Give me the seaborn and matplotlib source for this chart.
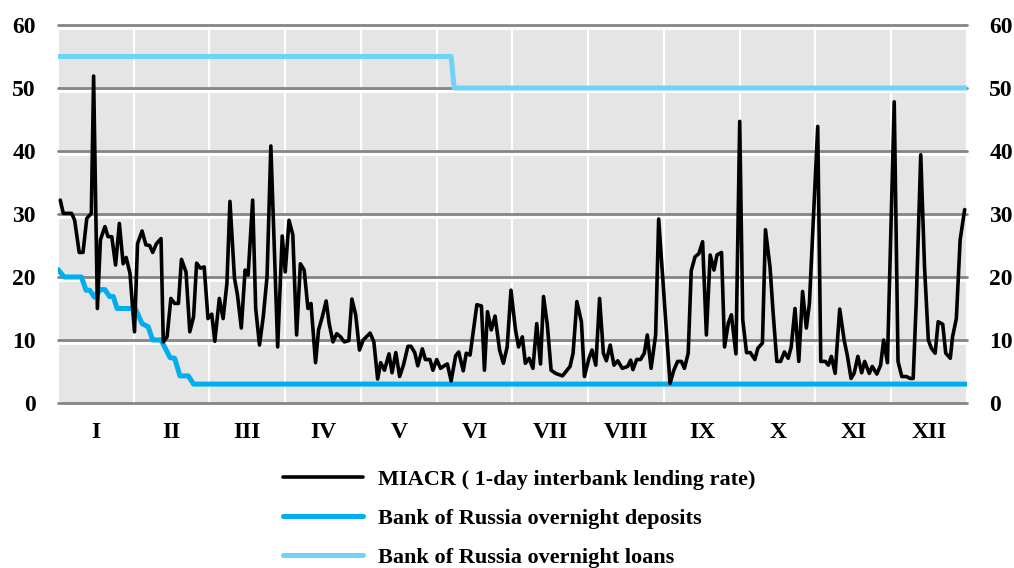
import numpy as np
import pandas as pd
import matplotlib
matplotlib.use("Agg")
import matplotlib.pyplot as plt
import matplotlib.patheffects as pe
import seaborn as sns

# x positions are in months (0 = start of January, 12 = end of December)
miacr_x = [0.03, 0.07, 0.18, 0.22, 0.28, 0.33, 0.38, 0.44, 0.47, 0.52, 0.56, 0.62, 0.66, 0.71, 0.76,
           0.81, 0.86, 0.90, 0.95, 1.01, 1.05, 1.11, 1.16, 1.21, 1.25, 1.30, 1.36, 1.39, 1.44, 1.49,
           1.54, 1.59, 1.63, 1.69, 1.74, 1.79, 1.83, 1.88, 1.93, 1.98, 2.03, 2.07, 2.13, 2.18, 2.23,
           2.27, 2.33, 2.37, 2.42, 2.47, 2.51, 2.57, 2.61, 2.66, 2.71, 2.76, 2.81, 2.90, 2.96, 3.00,
           3.05, 3.10, 3.15, 3.20, 3.25, 3.30, 3.34, 3.40, 3.44, 3.49, 3.54, 3.58, 3.63, 3.68, 3.73,
           3.78, 3.84, 3.88, 3.93, 3.98, 4.03, 4.12, 4.17, 4.22, 4.26, 4.31, 4.37, 4.41, 4.46, 4.51,
           4.56, 4.62, 4.66, 4.71, 4.75, 4.81, 4.85, 4.91, 4.95, 5.00, 5.05, 5.11, 5.14, 5.19, 5.25,
           5.29, 5.35, 5.39, 5.44, 5.48, 5.53, 5.59, 5.63, 5.67, 5.72, 5.77, 5.83, 5.88, 5.93, 5.98,
           6.04, 6.08, 6.13, 6.17, 6.22, 6.27, 6.32, 6.37, 6.41, 6.46, 6.51, 6.57, 6.66, 6.76, 6.80,
           6.85, 6.91, 6.95, 7.01, 7.05, 7.10, 7.15, 7.20, 7.24, 7.29, 7.34, 7.39, 7.45, 7.52, 7.56,
           7.59, 7.64, 7.69, 7.74, 7.78, 7.83, 7.89, 7.93, 8.08, 8.13, 8.18, 8.23, 8.27, 8.32, 8.36,
           8.41, 8.46, 8.51, 8.56, 8.61, 8.66, 8.70, 8.76, 8.80, 8.85, 8.89, 8.95, 9.00, 9.04, 9.09,
           9.14, 9.20, 9.24, 9.30, 9.34, 9.40, 9.44, 9.49, 9.54, 9.59, 9.64, 9.68, 9.73, 9.78, 9.83,
           9.88, 9.92, 10.03, 10.07, 10.13, 10.17, 10.21, 10.26, 10.32, 10.38, 10.42, 10.47, 10.51,
           10.56, 10.61, 10.65, 10.71, 10.75, 10.81, 10.86, 10.90, 10.95, 11.04, 11.09, 11.14, 11.20,
           11.25, 11.29, 11.33, 11.39, 11.44, 11.49, 11.53, 11.58, 11.62, 11.68, 11.72, 11.78, 11.81,
           11.86, 11.91, 11.97]
miacr_y = [32.2, 30.1, 30.1, 29.0, 23.9, 23.9, 29.3, 30.1, 51.9, 15.0, 25.9, 28.0, 26.4, 26.4, 21.9,
           28.5, 22.1, 23.1, 20.6, 11.3, 25.3, 27.3, 25.1, 25.0, 23.9, 25.3, 26.1, 9.7, 10.5, 16.6,
           15.8, 15.8, 22.8, 20.8, 11.3, 13.7, 22.2, 21.4, 21.6, 13.4, 14.1, 9.8, 16.6, 13.4, 19.0,
           32.0, 19.8, 17.1, 11.9, 21.1, 20.3, 32.2, 15.0, 9.2, 13.7, 20.1, 40.8, 8.9, 26.5, 20.8,
           29.0, 26.7, 10.8, 22.1, 21.1, 15.0, 15.8, 6.4, 11.6, 13.7, 16.2, 12.6, 9.7, 11.0, 10.5,
           9.7, 9.9, 16.5, 14.0, 8.4, 10.0, 11.1, 9.7, 3.8, 6.4, 5.2, 7.8, 4.8, 8.0, 4.2,
           6.0, 9.0, 9.0, 8.0, 5.9, 8.6, 6.9, 6.9, 5.2, 6.9, 5.5, 6.0, 6.2, 3.5, 7.5,
           8.1, 5.1, 7.9, 7.6, 11.1, 15.6, 15.4, 5.2, 14.5, 11.6, 13.8, 8.4, 6.3, 8.9, 17.9,
           11.6, 8.9, 10.5, 6.3, 7.1, 5.5, 12.6, 6.2, 16.9, 12.4, 5.2, 4.7, 4.3, 5.8, 7.9,
           16.1, 12.9, 4.2, 7.1, 8.4, 6.0, 16.6, 7.9, 6.7, 9.2, 6.0, 6.7, 5.5, 5.8, 6.8,
           5.3, 6.9, 6.9, 7.9, 10.8, 5.5, 10.8, 29.2, 3.1, 5.2, 6.6, 6.6, 5.5, 7.9, 21.0,
           23.2, 23.7, 25.6, 10.8, 23.5, 21.1, 23.5, 23.9, 8.9, 12.7, 14.0, 7.8, 44.7, 13.2, 8.0,
           8.0, 6.9, 8.7, 9.5, 27.5, 21.6, 14.5, 6.6, 6.6, 8.1, 7.1, 8.9, 15.0, 6.6, 17.7,
           11.9, 15.8, 43.9, 6.6, 6.6, 6.0, 7.4, 4.7, 14.9, 9.9, 7.6, 3.9, 4.7,
           7.4, 4.8, 6.6, 4.7, 5.8, 4.6, 6.0, 10.0, 6.4, 47.8, 6.6, 4.2, 4.2,
           3.9, 3.9, 15.8, 39.4, 21.6, 10.0, 8.7, 7.9, 12.9, 12.5, 7.9, 7.1, 10.5,
           13.4, 25.9, 30.7]

dep_x = [0.00, 0.08, 0.31, 0.37, 0.42, 0.48, 0.56, 0.62, 0.68, 0.73, 0.78, 1.02, 1.11, 1.19,
         1.25, 1.36, 1.48, 1.54, 1.61, 1.72, 1.79, 12.0]
dep_y = [21.2, 20.0, 20.0, 17.9, 17.9, 16.8, 18.0, 18.0, 16.9, 16.9, 15.0, 15.0, 12.6, 12.1,
         10.0, 10.0, 7.2, 7.1, 4.3, 4.3, 3.0, 3.0]

loan_x = [0.0, 5.19, 5.23, 12.0]
loan_y = [55, 55, 50, 50]

months = ["I", "II", "III", "IV", "V", "VI", "VII", "VIII", "IX", "X", "XI", "XII"]
yticks = [0, 10, 20, 30, 40, 50, 60]

labels = ["MIACR ( 1-day interbank lending rate)",
          "Bank of Russia overnight deposits",
          "Bank of Russia overnight loans"]

sns.set_theme(style="white")
plt.rcParams["font.family"] = ["Liberation Serif", "DejaVu Serif"]
plt.rcParams["font.weight"] = "bold"
plt.rcParams["text.color"] = "black"
plt.rcParams["xtick.color"] = "black"
plt.rcParams["ytick.color"] = "black"

fig = plt.figure(figsize=(10.14, 5.68), dpi=100)
ax = fig.add_axes([0.0572, 0.2905, 0.8964, 0.6655])
ax.set_facecolor("#e5e5e5")

sns.lineplot(x=miacr_x, y=miacr_y, ax=ax, color="black", lw=2.6, sort=False, label=labels[0], zorder=5)
sns.lineplot(x=dep_x, y=dep_y, ax=ax, color="#00aeef", lw=3.6, sort=False, label=labels[1], zorder=4)
sns.lineplot(x=loan_x, y=loan_y, ax=ax, color="#6dd3f7", lw=3.6, sort=False, label=labels[2], zorder=4)

ax.set_xlim(0, 12)
ax.set_ylim(0, 60)
ax.set_xticks(np.arange(12) + 0.5)
ax.set_xticklabels(months)
ax.set_xticks(np.arange(13), minor=True)
ax.set_yticks(yticks)
for s in ax.spines.values():
    s.set_visible(False)

ax.grid(which="minor", axis="x", color="white", lw=1.5)
ax.grid(which="major", axis="y", color="#858585", lw=2)
for gl in ax.get_ygridlines():
    gl.set_clip_on(False)
    gl.set_path_effects([pe.SimpleLineShadow(offset=(0, -2), shadow_color="white", alpha=1),
                         pe.Normal()])
ax.set_axisbelow(True)

ax.tick_params(axis="both", which="both", length=0, labelsize=17)
ax.tick_params(axis="y", labelright=True, pad=16)
ax.tick_params(axis="x", pad=14)
ax.set_xlabel("")
ax.set_ylabel("")

h, l = ax.get_legend_handles_labels()
ax.get_legend().remove()
fig.legend(h, l, loc="upper left", bbox_to_anchor=(0.268, 0.193), frameon=False,
           fontsize=16, handlelength=3.6, handletextpad=0.68, labelspacing=0.83, borderpad=0)

fig.savefig("out.png", dpi=100)
